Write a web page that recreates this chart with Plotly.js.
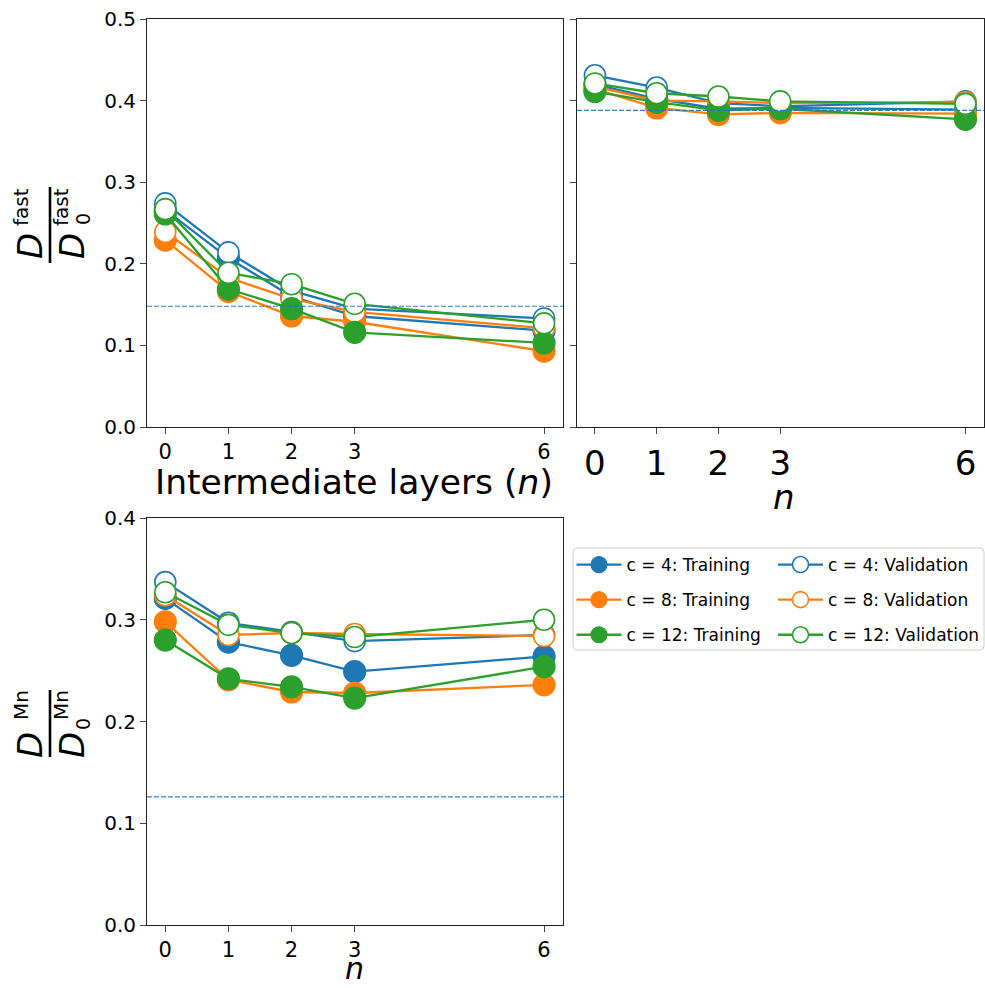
<!DOCTYPE html>
<html><head><meta charset="utf-8">
<script src="https://cdn.plot.ly/plotly-3.0.1.min.js"></script>
<style>html,body{margin:0;padding:0;background:#fff}</style>
</head><body><div id="chart" style="width:985px;height:988px"></div>
<script>
// ---------- data ----------
const nLayers = [0, 1, 2, 3, 6];
const seriesNames = ['c = 4', 'c = 8', 'c = 12'];

// top-left: D_fast / D0_fast
const fastTrain4 = [0.266, 0.207, 0.160, 0.136, 0.118];
const fastVal4   = [0.274, 0.214, 0.167, 0.145, 0.133];
const fastTrain8 = [0.229, 0.166, 0.136, 0.129, 0.093];
const fastVal8   = [0.239, 0.183, 0.157, 0.141, 0.121];
const fastTrain12= [0.261, 0.169, 0.145, 0.116, 0.103];
const fastVal12  = [0.267, 0.189, 0.175, 0.151, 0.127];
const fastRef = 0.148;

// top-right: second quantity (shared y)
const rTrain4 = [0.420, 0.402, 0.390, 0.391, 0.389];
const rVal4   = [0.431, 0.416, 0.397, 0.393, 0.399];
const rTrain8 = [0.414, 0.391, 0.383, 0.385, 0.384];
const rVal8   = [0.417, 0.400, 0.399, 0.397, 0.398];
const rTrain12= [0.411, 0.398, 0.388, 0.390, 0.377];
const rVal12  = [0.421, 0.409, 0.405, 0.399, 0.396];
const rightRef = 0.388;

// bottom: D_Mn / D0_Mn
const mnTrain4 = [0.321, 0.278, 0.265, 0.249, 0.264];
const mnVal4   = [0.337, 0.297, 0.288, 0.279, 0.285];
const mnTrain8 = [0.298, 0.241, 0.229, 0.228, 0.236];
const mnVal8   = [0.324, 0.285, 0.287, 0.286, 0.284];
const mnTrain12= [0.280, 0.242, 0.234, 0.223, 0.254];
const mnVal12  = [0.327, 0.295, 0.287, 0.283, 0.300];
const mnRef = 0.126;

const yTicksTop = [0, 0.1, 0.2, 0.3, 0.4, 0.5];
const yTicksBottom = [0, 0.1, 0.2, 0.3, 0.4];

// ---------- styling ----------
const colors = ['#1f77b4', '#ff7f0e', '#2ca02c'];
const FONT = 'DejaVu Sans';

const panels = [
  {xa: 'x',  ya: 'y',  sets: [[fastTrain4, fastVal4], [fastTrain8, fastVal8], [fastTrain12, fastVal12]], legend: true},
  {xa: 'x2', ya: 'y2', sets: [[rTrain4, rVal4], [rTrain8, rVal8], [rTrain12, rVal12]], legend: false},
  {xa: 'x3', ya: 'y3', sets: [[mnTrain4, mnVal4], [mnTrain8, mnVal8], [mnTrain12, mnVal12]], legend: false}
];

const traces = [];
panels.forEach(p => {
  p.sets.forEach((pair, i) => {
    const col = colors[i];
    traces.push({
      x: nLayers, y: pair[0], xaxis: p.xa, yaxis: p.ya, type: 'scatter', mode: 'lines+markers',
      name: seriesNames[i] + ': Training', legend: 'legend', legendgroup: 't' + i,
      showlegend: p.legend,
      line: {color: col, width: 2.3},
      marker: {symbol: 'circle', size: 22, color: col, line: {color: col, width: 1.2}}
    });
    traces.push({
      x: nLayers, y: pair[1], xaxis: p.xa, yaxis: p.ya, type: 'scatter', mode: 'lines+markers',
      name: seriesNames[i] + ': Validation', legend: 'legend2', legendgroup: 'v' + i,
      showlegend: p.legend,
      line: {color: col, width: 2.3},
      marker: {symbol: 'circle', size: 21, color: '#ffffff', line: {color: col, width: 1.6}}
    });
  });
});

const W = 985, H = 988;
const px = v => v / W;
const py = v => 1 - v / H;

function xAxis(domain, tickSize) {
  return {
    domain: domain, range: [-0.29, 6.3], tickvals: nLayers, ticktext: nLayers.map(String),
    ticks: 'outside', ticklen: 6, tickwidth: 1, tickcolor: '#444',
    tickfont: {family: FONT, size: tickSize, color: '#000'},
    showline: true, linecolor: '#222', linewidth: 1, mirror: true,
    showgrid: false, zeroline: false, title: {text: ''}
  };
}
function yAxis(domain, range, ticks, anchor, showLabels) {
  return {
    domain: domain, range: range, tickvals: ticks, ticktext: ticks.map(v => v.toFixed(1)),
    anchor: anchor, showticklabels: showLabels,
    ticks: 'outside', ticklen: 6, tickwidth: 1, tickcolor: '#444',
    tickfont: {family: FONT, size: 20, color: '#000'},
    showline: true, linecolor: '#222', linewidth: 1, mirror: true,
    showgrid: false, zeroline: false
  };
}

const topDom = [py(427), py(19)];
const botDom = [py(925), py(518)];

function txt(x, y, text, size, angle, yanchor) {
  return {
    xref: 'paper', yref: 'paper', x: px(x), y: py(y), text: text, showarrow: false,
    textangle: angle || 0, xanchor: 'center', yanchor: yanchor || 'middle',
    font: {family: FONT, size: size, color: '#000'}
  };
}

// fraction-style y labels built from pieces
function fracLabel(yNum, yBar0, yBar1, ySup, y0, supText) {
  const ann = [
    txt(30, yNum, '<i>D</i>', 34, -90),
    txt(21, ySup, supText, 20, -90),
    txt(72, yNum, '<i>D</i>', 34, -90),
    txt(61, ySup, supText, 20, -90),
    txt(83, y0, '0', 19, -90)
  ];
  const shape = {type: 'line', xref: 'paper', yref: 'paper', x0: px(50), x1: px(50), y0: py(yBar0), y1: py(yBar1),
                 line: {color: '#000', width: 2.6}};
  return {ann, shape};
}
const labTop = fracLabel(246, 187, 263, 207, 219, 'fast');
const labBot = fracLabel(745, 690, 757, 705, 724, 'Mn');

// axis titles
const xTitles = [
  txt(354, 482, 'Intermediate layers (<i>n</i>)', 34.5, 0),
  txt(784, 497, '<i>n</i>', 34, 0),
  txt(354, 988, '<i>n</i>', 30, 0, 'bottom')
];

function refLine(xa, ya, val) {
  return {type: 'line', xref: xa + ' domain', yref: ya, x0: 0, x1: 1, y0: val, y1: val,
          line: {color: '#1f77b4', width: 1.2, dash: '5px,2px'}, opacity: 0.9};
}

// legend box with rounded corners
const bx0 = px(573), bx1 = px(984), by0 = py(548), by1 = py(650);
const rx = px(4), ry = 4 / H;
const legendBox = {
  type: 'path', xref: 'paper', yref: 'paper', layer: 'below',
  path: `M ${bx0 + rx} ${by0} L ${bx1 - rx} ${by0} Q ${bx1} ${by0} ${bx1} ${by0 - ry} L ${bx1} ${by1 + ry} Q ${bx1} ${by1} ${bx1 - rx} ${by1} L ${bx0 + rx} ${by1} Q ${bx0} ${by1} ${bx0} ${by1 + ry} L ${bx0} ${by0 - ry} Q ${bx0} ${by0} ${bx0 + rx} ${by0} Z`,
  line: {color: '#d0d0d0', width: 1}, fillcolor: 'rgba(255,255,255,0.8)'
};

const legendCommon = {
  orientation: 'v', yanchor: 'top', bgcolor: 'rgba(0,0,0,0)', borderwidth: 0,
  font: {family: FONT, size: 17, color: '#000'}, itemwidth: 45, tracegroupgap: 10, itemclick: false
};

const layout = {
  width: W, height: H, margin: {l: 0, r: 0, t: 0, b: 0, autoexpand: false},
  paper_bgcolor: '#fff', plot_bgcolor: '#fff',
  font: {family: FONT},
  xaxis: Object.assign(xAxis([px(147), px(563)], 21), {anchor: 'y'}),
  yaxis: yAxis(topDom, [0, 0.5], yTicksTop, 'x', true),
  xaxis2: Object.assign(xAxis([px(577), px(984)], 34), {anchor: 'y2'}),
  yaxis2: Object.assign(yAxis(topDom, [0, 0.5], yTicksTop, 'x2', false), {matches: 'y'}),
  xaxis3: Object.assign(xAxis([px(147), px(563)], 21), {anchor: 'y3'}),
  yaxis3: yAxis(botDom, [0, 0.4], yTicksBottom, 'x3', true),
  shapes: [refLine('x', 'y', fastRef), refLine('x2', 'y2', rightRef), refLine('x3', 'y3', mnRef),
           labTop.shape, labBot.shape, legendBox],
  annotations: labTop.ann.concat(labBot.ann, xTitles),
  legend: Object.assign({x: px(571.5), y: py(547), xanchor: 'left'}, legendCommon),
  legend2: Object.assign({x: 1, y: py(547), xanchor: 'right'}, legendCommon),
  showlegend: true
};

Plotly.newPlot('chart', traces, layout, {displayModeBar: false, staticPlot: true});
</script></body></html>
